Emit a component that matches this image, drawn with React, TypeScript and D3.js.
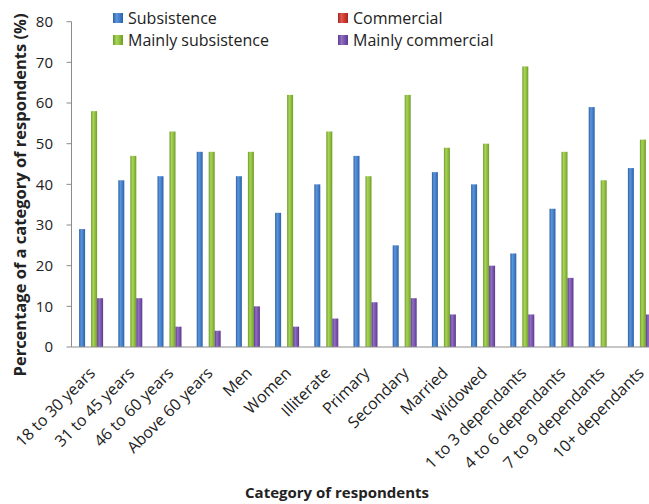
import React from "react";
import * as d3 from "d3";

const categories = [
  "18 to 30 years",
  "31 to 45 years",
  "46 to 60 years",
  "Above 60 years",
  "Men",
  "Women",
  "Illiterate",
  "Primary",
  "Secondary",
  "Married",
  "Widowed",
  "1 to 3 dependants",
  "4 to 6 dependants",
  "7 to 9 dependants",
  "10+ dependants",
];

const seriesNames = ["Subsistence", "Commercial", "Mainly subsistence", "Mainly commercial"];

const subsistence = [29, 41, 42, 48, 42, 33, 40, 47, 25, 43, 40, 23, 34, 59, 44];
const commercial = [0, 0, 0, 0, 0, 0, 0, 0, 0, 0, 0, 0, 0, 0, 0];
const mainlySubsistence = [58, 47, 53, 48, 48, 62, 53, 42, 62, 49, 50, 69, 48, 41, 51];
const mainlyCommercial = [12, 12, 5, 4, 10, 5, 7, 11, 12, 8, 20, 8, 17, 0, 8];

const yTicks = [0, 10, 20, 30, 40, 50, 60, 70, 80];

const seriesValues = [subsistence, commercial, mainlySubsistence, mainlyCommercial];
const colors = [
  { dark: "#2f5f9e", mid: "#3f7ccb", light: "#5b95dc" },
  { dark: "#a32a22", mid: "#c9352c", light: "#e0574d" },
  { dark: "#6e9a2a", mid: "#8cbc3a", light: "#a8d45a" },
  { dark: "#5c3a8c", mid: "#7650ab", light: "#9170c4" },
];

const W = 649;
const H = 504;
const left = 71.5;
const band = 39.2;
const top = 21.7;
const bottom = 347;
const font = "'Open Sans', 'Liberation Sans', sans-serif";

export default function App() {
  const x = d3
    .scaleBand<string>()
    .domain(categories)
    .range([left, left + band * categories.length])
    .paddingInner(0)
    .paddingOuter(0);
  const xs = d3
    .scaleBand<string>()
    .domain(seriesNames)
    .range([7.6, band - 7.6])
    .padding(0);
  const y = d3.scaleLinear().domain([0, 80]).range([bottom, top]);

  return (
    <svg
      width={W}
      height={H}
      style={{ position: "absolute", left: 0, top: 0, background: "#fff" }}
      fontFamily={font}
    >
      <defs>
        {colors.map((c, i) => (
          <linearGradient key={i} id={`g${i}`} x1="0" x2="1" y1="0" y2="0">
            <stop offset="0" stopColor={c.dark} />
            <stop offset="0.35" stopColor={c.light} />
            <stop offset="0.7" stopColor={c.mid} />
            <stop offset="1" stopColor={c.dark} />
          </linearGradient>
        ))}
      </defs>

      {/* bars */}
      {categories.map((cat, ci) => (
        <g key={cat} transform={`translate(${x(cat)},0)`}>
          {seriesNames.map((s, si) => {
            const v = seriesValues[si][ci];
            if (v <= 0) return null;
            return (
              <rect
                key={s}
                x={xs(s)}
                y={y(v)}
                width={xs.bandwidth()}
                height={y(0) - y(v)}
                fill={`url(#g${si})`}
              />
            );
          })}
        </g>
      ))}

      {/* y axis */}
      <line x1={left} x2={left} y1={top} y2={bottom} stroke="#8c8c8c" strokeWidth={1} />
      {yTicks.map((t) => (
        <g key={t}>
          <line x1={left - 5} x2={left} y1={y(t)} y2={y(t)} stroke="#8c8c8c" />
          <text x={53} y={y(t)} dy="0.36em" textAnchor="end" fontSize={15} fill="#222">
            {t}
          </text>
        </g>
      ))}

      {/* x axis */}
      <line x1={left} x2={W} y1={bottom} y2={bottom} stroke="#8c8c8c" />
      {categories.map((cat) => {
        const cx = (x(cat) as number) + band / 2 + 5;
        const cy = bottom + 27;
        return (
          <text
            key={cat}
            transform={`translate(${cx},${cy}) rotate(-45)`}
            textAnchor="end"
            fontSize={16}
            fill="#222"
          >
            {cat}
          </text>
        );
      })}

      {/* axis titles */}
      <text
        transform={`translate(26,195) rotate(-90)`}
        textAnchor="middle"
        fontSize={16.5}
        fontWeight="bold"
        fill="#222"
      >
        Percentage of a category of respondents (%)
      </text>
      <text x={337} y={498} textAnchor="middle" fontSize={15} fontWeight="bold" fill="#222">
        Category of respondents
      </text>

      {/* legend */}
      {seriesNames.map((s, i) => {
        const lx = i % 2 === 0 ? 113 : 338;
        const ly = i < 2 ? 13 : 35;
        return (
          <g key={s} transform={`translate(${lx},${ly})`}>
            <rect x={0} y={0} width={10} height={10} fill={`url(#g${i})`} />
            <text x={15} y={10.5} fontSize={16} fill="#222">
              {s}
            </text>
          </g>
        );
      })}
    </svg>
  );
}
